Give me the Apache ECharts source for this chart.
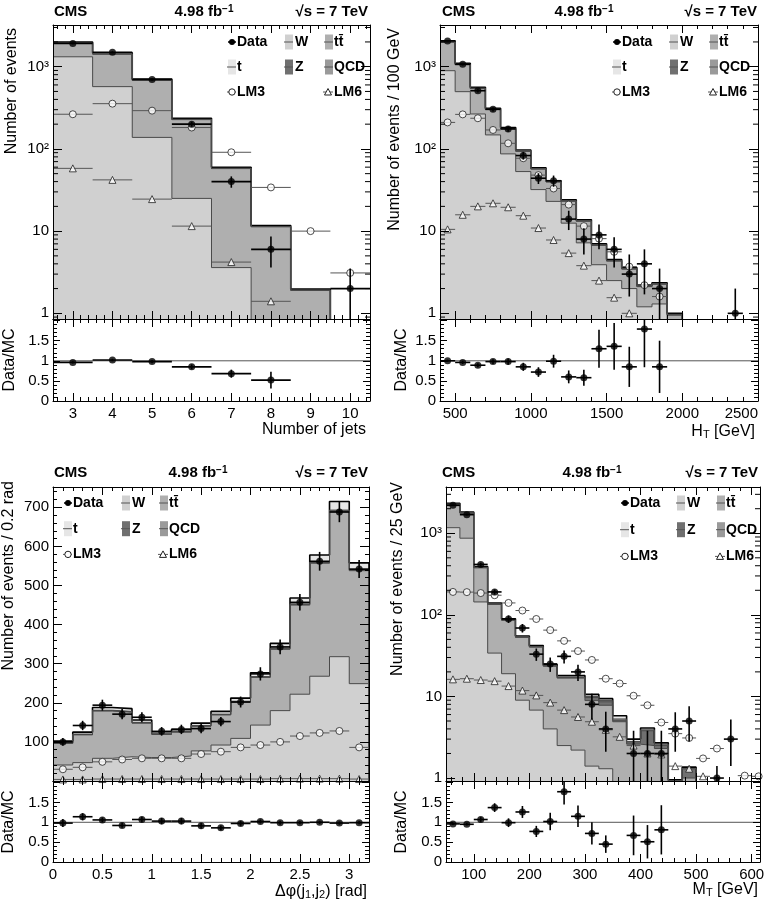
<!DOCTYPE html>
<html lang="en">
<head>
<meta charset="UTF-8">
<title>CMS control distributions</title>
<style>html,body{margin:0;padding:0;background:#fff}</style>
</head>
<body>
<div id="main" style="width:764px;height:906px;"></div>
<script src="https://cdn.jsdelivr.net/npm/echarts@6/dist/echarts.min.js"></script>
<script>
var FONT = '"Liberation Sans", Arial, Helvetica, sans-serif';
var FILL = { W: '#d0d0d0', tt: '#afafaf', Z: '#707070', QCD: '#9a9a9a', t: '#e6e6e6' };
var STACK = ['W', 'tt', 'Z', 'QCD', 't'];   // bottom -> top

// ---- number of jets
var nj_x = [3, 4, 5, 6, 7, 8, 9, 10];
var nj_W = [1320, 572, 138, 25, 3.6, 0.5, 0.15];
var nj_tt = [595, 850, 545, 202, 54, 10.8, 1.75];
var nj_t = [60, 45, 20, 7, 1.8, 0.3, 0.05];
var nj_Z = [15, 8, 3, 1, 0.3, 0.05, 0.01];
var nj_QCD = [10, 5, 2, 0.5, 0.1, 0.02, 0.01];
var nj_data = [1920, 1500, 700, 200, 40, 6, null, 2];
var nj_lo = [44, 39, 26, 14, 6.3, 2.4, null, 1.3];
var nj_hi = [44, 39, 26, 14, 6.3, 2.6, null, 1.5];
var nj_lm3 = [264, 355, 292, 182, 91, 34, 10, 3.1];
var nj_lm6 = [58, 42, 24.5, 11.5, 4.2, 1.4, null, null];
var nj_ratio = [0.96, 1.02, 0.98, 0.85, 0.68, 0.52, null, null];
var nj_rerr = [0.03, 0.03, 0.04, 0.06, 0.1, 0.21, null, null];

// ---- HT
var ht_x = [450, 550, 650, 750, 850, 950, 1050, 1150, 1250, 1350, 1450, 1550, 1650, 1750, 1850, 1950, 2050, 2150, 2250, 2350];
var ht_W = [894, 497, 266, 148, 87, 53, 32, 23, 12.5, 7.2, 3.9, 2.5, 2.0, 1.2, 1.3, 0.55];
var ht_tt = [1091, 560, 275, 153, 88.5, 40.6, 24.9, 16.6, 10.6, 6.0, 2.8, 1.82, 1.45, 0.91, 0.96, 0.4];
var ht_t = [60, 30, 15, 8, 5, 2.5, 1.5, 1, 0.6, 0.35, 0.2, 0.12, 0.1, 0.06, 0.06, 0.03];
var ht_Z = [15, 8, 4, 2, 1, 0.6, 0.4, 0.3, 0.2, 0.1, 0.05, 0.04, 0.03, 0.02, 0.02, 0.01];
var ht_QCD = [10, 5, 2, 1, 0.5, 0.3, 0.2, 0.1, 0.1, 0.05, 0.05, 0.02, 0.02, 0.01, 0.01, 0.01];
var ht_data = [2060, 1070, 510, 303, 175, 83, 44, 41, 14, 8, 9, 6, 3, 4, 2, null, null, null, null, 1];
var ht_lo = [45, 33, 23, 17, 13, 9, 6.6, 6.4, 3.7, 2.8, 3, 2.4, 1.4, 2.3, 1.3, null, null, null, null, 0.8];
var ht_hi = [45, 33, 23, 17, 13, 9, 6.6, 6.4, 3.7, 2.8, 3, 2.4, 2.2, 2.0, 1.5, null, null, null, null, 1.0];
var ht_lm3 = [210, 263, 236, 170, 117, 77, 48, 33, 21, 11.5, 8.1, 5.6, 3.7, 2.2, 1.6, null, null, null, null, null];
var ht_lm6 = [10.5, 15.8, 20, 21.8, 19.5, 15.4, 10.9, 7.8, 5.4, 3.8, 2.5, 1.55, 1.0, null, null, null, null, null, null, null];
var ht_ratio = [1.0, 0.96, 0.89, 0.98, 0.98, 0.85, 0.72, 0.99, 0.60, 0.58, 1.30, 1.36, 0.85, 1.79, 0.85, null, null, null, null, null];
var ht_rerr = [0.03, 0.04, 0.05, 0.06, 0.08, 0.1, 0.12, 0.16, 0.16, 0.2, 0.47, 0.58, 0.5, 0.95, 0.65, null, null, null, null, null];

// ---- delta phi(j1,j2)
var dp_x = [0.1, 0.3, 0.5, 0.7, 0.9, 1.1, 1.3, 1.5, 1.7, 1.9, 2.1, 2.3, 2.5, 2.7, 2.9, 3.1];
var dp_W = [41, 47, 58, 62, 60, 60, 64, 77, 92, 109, 143, 180, 222, 268, 318, 249];
var dp_tt = [55, 71, 121, 114, 88, 59, 61, 63, 77, 93, 122, 157, 228, 289, 371, 289];
var dp_t = [4, 5, 7, 7, 6, 5, 5, 6, 7, 8, 10, 12, 15, 18, 22, 17];
var dp_Z = [1, 1, 1, 1, 1, 1, 1, 1, 1, 1, 1, 1, 2, 2, 2, 2];
var dp_QCD = [1, 1, 1, 1, 1, 1, 1, 1, 1, 1, 1, 2, 1, 1, 2, 1];
var dp_data = [100, 142, 194, 171, 163, 127, 132, 134, 152, 202, 274, 343, 457, 562, 688, 542];
var dp_err = [10, 12, 14, 13, 13, 11, 12, 12, 12, 14, 17, 19, 21, 24, 26, 23];
var dp_lm3 = [30, 35, 49, 55, 58, 58, 58, 69, 75, 86, 92, 100, 115, 123, 128, 86];
var dp_lm6 = [4, 4, 5, 5, 5, 5, 5, 5, 5, 5, 5, 6, 6, 6, 6, 5];
var dp_ratio = [0.98, 1.14, 1.06, 0.92, 1.07, 1.03, 1.03, 0.91, 0.86, 0.97, 1.02, 0.99, 0.99, 1.0, 0.98, 0.99];
var dp_rerr = [0.1, 0.09, 0.06, 0.06, 0.07, 0.08, 0.08, 0.07, 0.06, 0.06, 0.05, 0.05, 0.04, 0.04, 0.04, 0.04];

// ---- MT
var mt_x = [62.5, 87.5, 112.5, 137.5, 162.5, 187.5, 212.5, 237.5, 262.5, 287.5, 312.5, 337.5, 362.5, 387.5, 412.5, 437.5, 462.5, 487.5, 512.5, 537.5, 562.5, 587.5, 612.5];
var mt_W = [1170, 870, 144, 34, 19, 9, 6.8, 4.0, 2.5, 2.2, 1.4, 1.3, 0.7, 0.5, 0.4, 0.3, 0.2, 0.2];
var mt_tt = [1080, 892, 233, 100, 67, 44, 33.5, 19.5, 14.3, 14.6, 7.5, 6.5, 4.2, 2.1, 2.1, 2.0, 0.7, 0.8];
var mt_t = [50, 40, 10, 4, 2.5, 1.5, 1.2, 0.8, 0.8, 0.8, 0.6, 0.5, 0.5, 0.2, 0.2, 0.1, 0.02, 0.05];
var mt_Z = [10, 8, 3, 1, 0.5, 0.3, 0.3, 0.2, 0.2, 0.2, 0.8, 0.8, 0.2, 0.1, 1.3, 0.2, 0.02, 0.3];
var mt_QCD = [20, 10, 2, 0.5, 0.3, 0.2, 0.2, 0.2, 0.2, 0.2, 0.3, 0.3, 0.2, 0.1, 0.1, 0.1, 0.01, 0.01];
var mt_data = [2200, 1690, 415, 191, 89, 69, 33, 25, 31, 20, 8, 4, null, 2, 2, 2, 4, 5, null, 1, 3, null, null];
var mt_lo = [47, 41, 20, 14, 9.4, 8.3, 5.7, 5, 5.6, 4.5, 2.8, 1.9, null, 1.3, 1.3, 1.3, 1.9, 2.2, null, 0.3, 1.6, null, null];
var mt_hi = [47, 41, 20, 14, 9.4, 8.3, 5.7, 5, 5.6, 4.5, 2.8, 2.5, null, 1.8, 1.8, 1.8, 2.4, 2.6, null, 0.4, 2.2, null, null];
var mt_lm3 = [191, 190, 185, 174, 140, 113, 89, 65, 48, 36, 28, 16.5, 14.4, 10.2, 7.8, 4.8, 3.5, 3.1, 1.74, 2.3, null, 1.07, 1.05];
var mt_lm6 = [16.2, 16.5, 15.9, 15.4, 13.4, 11.8, 10.3, 8.4, 6.8, 5.6, 4.9, 3.9, 3.2, 2.5, 2.0, 1.95, 1.4, 1.3, 1.05, null, null, null, null];
var mt_ratio = [0.96, 0.95, 1.07, 1.37, 0.99, 1.26, 0.77, 1.02, 1.77, 1.15, 0.72, 0.45, null, 0.67, 0.51, 0.81];
var mt_rerr = [0.03, 0.03, 0.06, 0.11, 0.11, 0.15, 0.14, 0.22, 0.32, 0.27, 0.28, 0.22, null, 0.5, 0.42, 0.62];

var panels = [
  { box: [53, 25, 317, 294], ratioH: 82, xMin: 2.5, xMax: 10.5, xSplit: 8, xStep: 1, binW: 1,
    log: true, yMin: 0.853, yMax: 3215,
    x: nj_x, mc: { W: nj_W, tt: nj_tt, t: nj_t, Z: nj_Z, QCD: nj_QCD },
    data: nj_data, lo: nj_lo, hi: nj_hi, lm3: nj_lm3, lm6: nj_lm6, ratio: nj_ratio, rerr: nj_rerr,
    legend: [232, 285, 325, 42, 25], head: [54, 204, 368, 12],
    ytitle: ['Number of events', 12, 28], rtitle: [10, 360],
    xtitle: ['{a|Number of jets}', 366, 430] },
  { box: [440, 25, 318, 294], ratioH: 82, xMin: 400, xMax: 2500, xSplit: 4, xStep: 500, binW: 100,
    log: true, yMin: 0.853, yMax: 3215,
    x: ht_x, mc: { W: ht_W, tt: ht_tt, t: ht_t, Z: ht_Z, QCD: ht_QCD },
    data: ht_data, lo: ht_lo, hi: ht_hi, lm3: ht_lm3, lm6: ht_lm6, ratio: ht_ratio, rerr: ht_rerr,
    legend: [617, 670, 710, 42, 25], head: [442, 584, 757, 12],
    ytitle: ['Number of events / 100 GeV', 395, 28], rtitle: [402, 360],
    xtitle: ['{a|H}{s|T}{a| [GeV]}', 755, 432] },
  { box: [53, 487, 316, 294], ratioH: 81, xMin: 0, xMax: 3.2, xInt: 0.5, xStep: 0.5, binW: 0.2,
    log: false, yMin: 0, yMax: 752,
    x: dp_x, mc: { W: dp_W, tt: dp_tt, t: dp_t, Z: dp_Z, QCD: dp_QCD },
    data: dp_data, lo: dp_err, hi: dp_err, lm3: dp_lm3, lm6: dp_lm6, ratio: dp_ratio, rerr: dp_rerr,
    legend: [68, 122, 160, 503, 25.7], head: [54, 198, 368, 473],
    ytitle: ['Number of events / 0.2 rad', 9, 481], rtitle: [9, 822],
    xtitle: ['{a|\u0394\u03c6(j}{s|1}{a|,j}{s|2}{a|) [rad]}', 367, 892] },
  { box: [446, 487, 314, 294], ratioH: 81, xMin: 50, xMax: 615, xSplit: 6, xStep: 100, binW: 25,
    log: true, yMin: 0.92, yMax: 3690,
    x: mt_x, mc: { W: mt_W, tt: mt_tt, t: mt_t, Z: mt_Z, QCD: mt_QCD },
    data: mt_data, lo: mt_lo, hi: mt_hi, lm3: mt_lm3, lm6: mt_lm6, ratio: mt_ratio, rerr: mt_rerr,
    legend: [625, 677, 717, 503, 26.7], head: [442, 592, 758, 473],
    ytitle: ['Number of events / 25 GeV', 398, 482], rtitle: [402, 822],
    xtitle: ['{a|M}{s|T}{a| [GeV]}', 758, 890] }
];

function logLabel(v) {
  var e = Math.log(v) / Math.LN10, r = Math.round(e);
  if (Math.abs(e - r) > 1e-6) return '';
  return ['1', '10', '10\u00b2', '10\u00b3', '10\u2074'][r] || '';
}

// 2..9 x 10^n positions inside a log range (minor ticks)
function logMinor(lo, hi) {
  var out = [];
  for (var e = Math.floor(Math.log10(lo)); e <= Math.ceil(Math.log10(hi)); e++) {
    for (var k = 2; k <= 9; k++) {
      var v = k * Math.pow(10, e);
      if (v > lo && v < hi) out.push(v);
    }
  }
  return out;
}

function minorTickRender(params, api) {
  var cs = params.coordSys;
  var y = api.coord([api.value(0), api.value(1)])[1];
  var st = { stroke: '#000', lineWidth: 1 };
  return { type: 'group', children: [
    { type: 'line', shape: { x1: cs.x, y1: y, x2: cs.x + 5, y2: y }, style: st },
    { type: 'line', shape: { x1: cs.x + cs.width - 5, y1: y, x2: cs.x + cs.width, y2: y }, style: st }
  ] };
}

function errRender(color, width) {
  return function (params, api) {
    var cs = params.coordSys;
    var bot = cs.y + cs.height;
    function cx(v) { return Math.min(Math.max(v, cs.x), cs.x + cs.width); }
    function cy(v) { return Math.min(Math.max(v, cs.y), bot); }
    var x = api.value(0), y = api.value(1);
    var a = api.coord([api.value(2), y]), b = api.coord([api.value(3), y]);
    var kids = [{ type: 'line', shape: { x1: cx(a[0]), y1: a[1], x2: cx(b[0]), y2: b[1] },
      style: { stroke: color, lineWidth: width } }];
    var lo = api.value(4), hi = api.value(5);
    if (!isNaN(lo) && !isNaN(hi)) {
      var c = api.coord([x, hi]);
      var d = api.coord([x, lo]);
      var dy = isFinite(d[1]) ? d[1] : bot;
      kids.push({ type: 'line', shape: { x1: c[0], y1: cy(c[1]), x2: c[0], y2: cy(dy) },
        style: { stroke: color, lineWidth: width } });
    }
    return { type: 'group', children: kids };
  };
}

function errData(xs, ys, lo, hi, hw) {
  var out = [];
  xs.forEach(function (x, i) {
    var y = ys[i];
    if (y == null) return;
    out.push([x, y, x - hw, x + hw, lo ? y - lo[i] : NaN, hi ? y + hi[i] : NaN]);
  });
  return out;
}

function points(xs, ys) {
  var out = [];
  xs.forEach(function (x, i) { if (ys[i] != null) out.push([x, ys[i]]); });
  return out;
}

var grids = [], xAxes = [], yAxes = [], series = [], graphics = [];
var tickStyle = { color: '#000', width: 1 };

panels.forEach(function (p) {
  var gMain = grids.length;
  grids.push({ left: p.box[0], top: p.box[1], width: p.box[2], height: p.box[3], containLabel: false, outerBoundsMode: 'none' });
  var gRat = grids.length;
  grids.push({ left: p.box[0], top: p.box[1] + p.box[3], width: p.box[2], height: p.ratioH, containLabel: false, outerBoundsMode: 'none' });

  [gMain, gRat].forEach(function (g) {
    ['bottom', 'top'].forEach(function (pos) {
      xAxes.push({
        type: 'value', gridIndex: g, position: pos, min: p.xMin, max: p.xMax,
        splitNumber: p.xSplit, interval: p.xInt, z: 10,
        axisLine: { onZero: false, lineStyle: tickStyle },
        axisTick: { inside: true, length: 8, lineStyle: tickStyle },
        minorTick: { show: true, splitNumber: 5, length: 4, lineStyle: tickStyle },
        splitLine: { show: false },
        axisLabel: {
          show: g === gRat && pos === 'bottom', margin: 5, fontSize: 15, fontFamily: FONT, color: '#000',
          alignMaxLabel: 'right',
          formatter: function (v) {
            var q = v / p.xStep;
            return Math.abs(q - Math.round(q)) < 1e-6 ? String(v) : '';
          }
        }
      });
    });
    ['left', 'right'].forEach(function (pos) {
      var ax = {
        gridIndex: g, position: pos, z: 10,
        axisLine: { onZero: false, lineStyle: tickStyle },
        axisTick: { inside: true, length: 9, lineStyle: tickStyle },
        splitLine: { show: false },
        axisLabel: { show: pos === 'left', margin: 4, fontSize: 15, fontFamily: FONT, color: '#000' }
      };
      if (g === gRat) {
        ax.type = 'value'; ax.min = 0; ax.max = 2.04; ax.interval = 0.5;
        ax.axisTick.length = 7;
        ax.minorTick = { show: true, splitNumber: 5, length: 4, lineStyle: tickStyle };
        ax.axisLabel.formatter = function (v) { return v > 1.9 ? '' : String(v); };
      } else if (p.log) {
        ax.type = 'log'; ax.logBase = 10; ax.min = p.yMin; ax.max = p.yMax;
        ax.axisLabel.formatter = logLabel;
      } else {
        ax.type = 'value'; ax.min = p.yMin; ax.max = p.yMax; ax.interval = 100;
        ax.minorTick = { show: true, splitNumber: 5, length: 4, lineStyle: tickStyle };
        ax.axisLabel.formatter = function (v) { return (v === 0 || v % 100) ? '' : String(v); };
      }
      yAxes.push(ax);
    });
  });

  var xi = 2 * gMain, rxi = 2 * gRat;
  var floor = p.log ? p.yMin : 0;
  var n = p.mc.W.length;

  // stacked simulation, drawn from the top layer down so each fill sits on the next
  var cum = [], run = [];
  STACK.forEach(function (name, k) {
    run = p.mc[name].map(function (v, i) { return v + (k ? run[i] : 0); });
    cum.push(run);
  });
  for (var k = STACK.length - 1; k >= 0; k--) {
    var pts = cum[k].map(function (v, i) { return [p.x[0] - p.binW / 2 + i * p.binW, v]; });
    pts.push([p.x[0] - p.binW / 2 + n * p.binW, floor]);
    var top = k === STACK.length - 1;
    series.push({
      type: 'line', name: STACK[k], xAxisIndex: xi, yAxisIndex: xi, data: pts,
      step: 'end', symbol: 'none', clip: true, silent: true, z: 2,
      lineStyle: { color: top ? '#000' : '#4a4a4a', width: top ? 1.6 : 1 },
      areaStyle: { color: FILL[STACK[k]], opacity: 1, origin: floor }
    });
  }

  // log-axis minor ticks on both frame sides
  if (p.log) {
    series.push({ type: 'custom', xAxisIndex: xi, yAxisIndex: xi, z: 11, silent: true,
      encode: { x: 0, y: 1 }, renderItem: minorTickRender,
      data: logMinor(p.yMin, p.yMax).map(function (v) { return [p.xMin, v]; }) });
  }

  // signal points
  series.push({ type: 'custom', xAxisIndex: xi, yAxisIndex: xi, z: 3, silent: true,
    encode: { x: 0, y: 1 }, renderItem: errRender('#555', 1),
    data: errData(p.x, p.lm3, null, null, p.binW / 2).concat(errData(p.x, p.lm6, null, null, p.binW / 2)) });
  series.push({ type: 'scatter', name: 'LM3', xAxisIndex: xi, yAxisIndex: xi, z: 4, silent: true,
    symbol: 'circle', symbolSize: 7, itemStyle: { color: '#fff', borderColor: '#222', borderWidth: 1 },
    data: points(p.x, p.lm3) });
  series.push({ type: 'scatter', name: 'LM6', xAxisIndex: xi, yAxisIndex: xi, z: 4, silent: true,
    symbol: 'triangle', symbolSize: 7, itemStyle: { color: '#fff', borderColor: '#222', borderWidth: 1 },
    data: points(p.x, p.lm6) });

  // data
  series.push({ type: 'custom', xAxisIndex: xi, yAxisIndex: xi, z: 5, silent: true,
    encode: { x: 0, y: 1 }, renderItem: errRender('#000', 1.6),
    data: errData(p.x, p.data, p.lo, p.hi, p.binW / 2) });
  series.push({ type: 'scatter', name: 'Data', xAxisIndex: xi, yAxisIndex: xi, z: 6, silent: true,
    symbol: 'circle', symbolSize: 7, itemStyle: { color: '#000' }, data: points(p.x, p.data) });

  // ratio
  series.push({ type: 'line', xAxisIndex: rxi, yAxisIndex: rxi, symbol: 'none', silent: true, z: 3,
    lineStyle: { color: '#555', width: 1 }, data: [[p.xMin, 1], [p.xMax, 1]] });
  series.push({ type: 'custom', xAxisIndex: rxi, yAxisIndex: rxi, z: 5, silent: true,
    encode: { x: 0, y: 1 }, renderItem: errRender('#000', 1.6),
    data: errData(p.x, p.ratio, p.rerr, p.rerr, p.binW / 2) });
  series.push({ type: 'scatter', xAxisIndex: rxi, yAxisIndex: rxi, z: 6, silent: true,
    symbol: 'circle', symbolSize: 7, itemStyle: { color: '#000' }, data: points(p.x, p.ratio) });

  // header
  var h = p.head, hb = 'bold 15px ' + FONT;
  graphics.push({ type: 'text', x: h[0], y: h[3], style: { text: 'CMS', font: hb, fill: '#000', align: 'left', verticalAlign: 'middle' } });
  graphics.push({ type: 'text', x: h[1], y: h[3], style: {
    text: '{a|4.98 fb}{s|\u22121}', align: 'center', verticalAlign: 'middle', fill: '#000',
    rich: { a: { font: hb, fill: '#000' }, s: { font: 'bold 10px ' + FONT, fill: '#000', verticalAlign: 'top', padding: [0, 0, 6, 0] } } } });
  graphics.push({ type: 'text', x: h[2], y: h[3], style: { text: '\u221as = 7 TeV', font: hb, fill: '#000', align: 'right', verticalAlign: 'middle' } });

  // axis titles
  var tf = '16px ' + FONT;
  graphics.push({ type: 'text', x: p.ytitle[1], y: p.ytitle[2], rotation: Math.PI / 2,
    style: { text: p.ytitle[0], font: tf, fill: '#000', align: 'right', verticalAlign: 'middle' } });
  graphics.push({ type: 'text', x: p.rtitle[0], y: p.rtitle[1], rotation: Math.PI / 2,
    style: { text: 'Data/MC', font: tf, fill: '#000', align: 'center', verticalAlign: 'middle' } });
  graphics.push({ type: 'text', x: p.xtitle[1], y: p.xtitle[2], style: {
    text: p.xtitle[0], align: 'right', verticalAlign: 'middle',
    rich: { a: { font: tf, fill: '#000' }, s: { font: '11px ' + FONT, fill: '#000', verticalAlign: 'bottom', padding: [6, 0, 0, 0] } } } });

  // legend
  var L = p.legend, c1 = L[0], c2 = L[1], c3 = L[2], y0 = L[3], dy = L[4];
  var lf = 'bold 14px ' + FONT;
  function txt(x, y, s) {
    graphics.push({ type: 'text', x: x, y: y, style: { text: s, font: lf, fill: '#000', align: 'left', verticalAlign: 'middle' } });
  }
  function box(x, y, name) {
    graphics.push({ type: 'rect', shape: { x: x, y: y - 7.5, width: 8, height: 15 }, style: { fill: FILL[name] } });
    graphics.push({ type: 'line', shape: { x1: x - 1, y1: y, x2: x + 8, y2: y }, style: { stroke: '#555', lineWidth: 1 } });
  }
  graphics.push({ type: 'line', shape: { x1: c1 - 4, y1: y0, x2: c1 + 4, y2: y0 }, style: { stroke: '#000', lineWidth: 1.5 } });
  graphics.push({ type: 'circle', shape: { cx: c1, cy: y0, r: 3 }, style: { fill: '#000' } });
  txt(c1 + 5, y0, 'Data');
  box(c2, y0, 'W'); txt(c2 + 10, y0, 'W');
  box(c3, y0, 'tt'); txt(c3 + 9, y0, 'tt\u0304');
  box(c1 - 4, y0 + dy, 't'); txt(c1 + 5, y0 + dy, 't');
  box(c2, y0 + dy, 'Z'); txt(c2 + 10, y0 + dy, 'Z');
  box(c3, y0 + dy, 'QCD'); txt(c3 + 9, y0 + dy, 'QCD');
  graphics.push({ type: 'line', shape: { x1: c1 - 5, y1: y0 + 2 * dy, x2: c1 + 4, y2: y0 + 2 * dy }, style: { stroke: '#555', lineWidth: 1 } });
  graphics.push({ type: 'circle', shape: { cx: c1, cy: y0 + 2 * dy, r: 3.2 }, style: { fill: '#fff', stroke: '#222', lineWidth: 1 } });
  txt(c1 + 5, y0 + 2 * dy, 'LM3');
  var ty = y0 + 2 * dy, tx = c3 + 3;
  graphics.push({ type: 'line', shape: { x1: tx - 5, y1: ty, x2: tx + 5, y2: ty }, style: { stroke: '#555', lineWidth: 1 } });
  graphics.push({ type: 'polygon', shape: { points: [[tx, ty - 3.5], [tx + 3.5, ty + 3], [tx - 3.5, ty + 3]] }, style: { fill: '#fff', stroke: '#222', lineWidth: 1 } });
  txt(c3 + 9, ty, 'LM6');
});

var chart = echarts.init(document.getElementById('main'));
chart.setOption({
  animation: false,
  grid: grids,
  xAxis: xAxes,
  yAxis: yAxes,
  series: series,
  graphic: { elements: graphics }
});
</script>
</body>
</html>
